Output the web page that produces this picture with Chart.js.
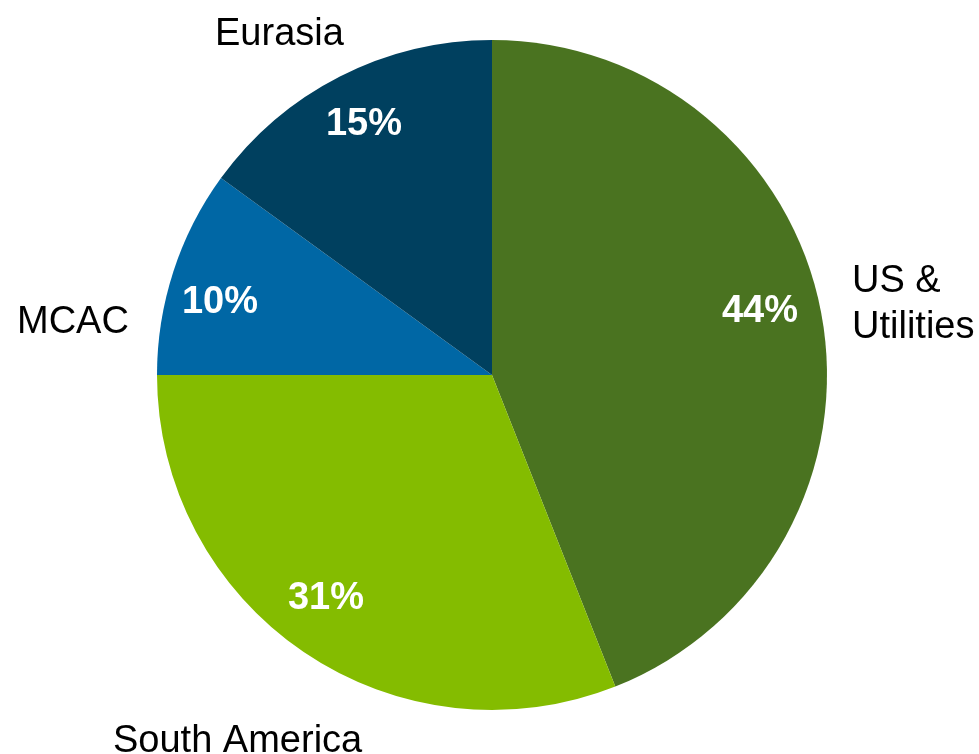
<!DOCTYPE html>
<html>
<head>
<meta charset="utf-8">
<script src="https://cdn.jsdelivr.net/npm/chart.js@4/dist/chart.umd.min.js"></script>
<style>
  html, body { margin: 0; padding: 0; background: #ffffff; }
  #wrap { width: 979px; height: 754px; position: relative; }
</style>
</head>
<body>
<div id="wrap"><canvas id="chart" width="979" height="754"></canvas></div>
<script>
// Share of total by region (percent), clockwise from 12 o'clock
const regions = ['US & Utilities', 'South America', 'MCAC', 'Eurasia'];
const shares = [44, 31, 10, 15];
const sliceColors = ['#4A7320', '#84BC00', '#0067A5', '#00405F'];

// Where each region's name and percentage are written (text baselines)
const nameLines = [['US &', 'Utilities'], ['South America'], ['MCAC'], ['Eurasia']];
const namePos = [
  { x: 852, y: 292 },
  { x: 113, y: 752 },
  { x: 17, y: 333 },
  { x: 215, y: 45 }
];
const pctPos = [
  { x: 760, y: 322 },
  { x: 326, y: 609 },
  { x: 220, y: 313 },
  { x: 364, y: 135 }
];

const labelPlugin = {
  id: 'sliceLabels',
  afterDatasetsDraw(chart) {
    const ctx = chart.ctx;
    const values = chart.data.datasets[0].data;
    const total = values.reduce((a, b) => a + b, 0);
    ctx.save();
    ctx.textBaseline = 'alphabetic';
    // percentages inside the slices
    ctx.fillStyle = '#ffffff';
    ctx.font = 'bold 38px "Liberation Sans", Arial, sans-serif';
    ctx.textAlign = 'center';
    values.forEach((v, i) => {
      const p = pctPos[i];
      ctx.fillText(Math.round(v / total * 100) + '%', p.x, p.y);
    });
    // region names outside the pie
    ctx.fillStyle = '#000000';
    ctx.font = '38px "Liberation Sans", Arial, sans-serif';
    ctx.textAlign = 'left';
    nameLines.forEach((lines, i) => {
      const p = namePos[i];
      lines.forEach((t, k) => ctx.fillText(t, p.x, p.y + k * 46));
    });
    ctx.restore();
  }
};

new Chart(document.getElementById('chart'), {
  type: 'pie',
  data: {
    labels: regions,
    datasets: [{
      data: shares,
      backgroundColor: sliceColors,
      borderWidth: 0,
      hoverOffset: 0
    }]
  },
  options: {
    responsive: false,
    animation: false,
    rotation: 0,
    layout: { padding: { top: 40, bottom: 44, left: 5, right: 0 } },
    plugins: {
      legend: { display: false },
      tooltip: { enabled: false }
    }
  },
  plugins: [labelPlugin]
});
</script>
</body>
</html>
